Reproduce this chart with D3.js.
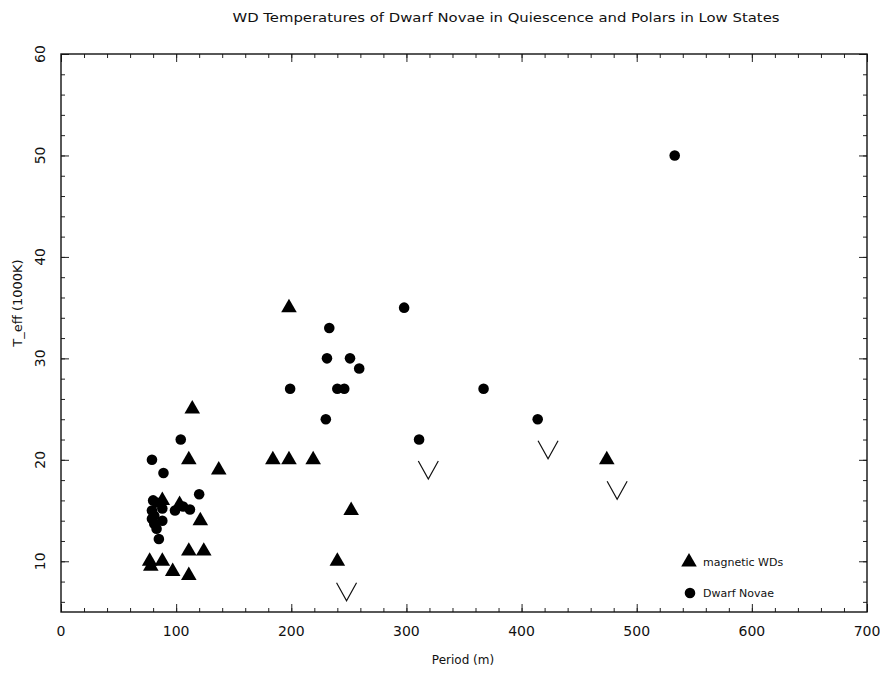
<!DOCTYPE html>
<html>
<head>
<meta charset="utf-8">
<script src="https://cdn.jsdelivr.net/npm/d3@7"></script>
<style>
  body { margin: 0; background: #fff; }
  text { font-family: "DejaVu Sans", sans-serif; fill: #111; }
</style>
</head>
<body>
<script>
// data: [period (min), T_eff (1000K)]
var magneticWDs = [
  [198, 35], [114, 25], [111, 20], [137, 19], [184, 20], [198, 20], [219, 20],
  [252, 15], [240, 10], [474, 20], [88, 16], [103, 15.6], [121, 14],
  [111, 11], [124, 11], [77, 10], [88, 10], [78, 9.5], [97, 9], [111, 8.6]
];
var dwarfNovae = [
  [533, 50], [298, 35], [233, 33], [231, 30], [251, 30], [259, 29],
  [199, 27], [240, 27], [246, 27], [367, 27], [230, 24], [414, 24],
  [311, 22], [104, 22], [79, 20], [89, 18.7], [120, 16.6],
  [80, 16], [83, 15.8], [79, 15], [81, 14.5], [79, 14.2], [81, 13.7],
  [83, 13.2], [85, 12.2], [88, 14], [88, 15.2], [99, 15], [106, 15.4], [112, 15.1]
];
// upper limits (drawn as open V)
var upperLimits = [[319, 19], [423, 21], [483, 17], [248, 7]];

var xTicks = [0, 100, 200, 300, 400, 500, 600, 700];
var yTicks = [10, 20, 30, 40, 50, 60];

//Define Margin
var margin = { left: 61, right: 13, top: 54, bottom: 62 },
    width = 880 - margin.left - margin.right,
    height = 674 - margin.top - margin.bottom;

var svg = d3.select("body")
    .append("svg")
    .attr("width", 880)
    .attr("height", 674);

var g = svg.append("g")
    .attr("transform", "translate(" + margin.left + "," + margin.top + ")");

var x = d3.scaleLinear().domain([0, 700]).range([0, width]);
var y = d3.scaleLinear().domain([5, 60]).range([height, 0]);

//=================================================
// axes: ticks inward on all four sides
//=================================================
function tickAxis(axis, scale, values, size) {
    return axis(scale).tickValues(values).tickSize(-size).tickFormat("");
}
var xMinor = d3.range(0, 701, 20), yMinor = d3.range(6, 61, 2);

[[d3.axisBottom, "translate(0," + height + ")"], [d3.axisTop, null]].forEach(function (a) {
    var gg = g.append("g").attr("transform", a[1]);
    gg.append("g").call(tickAxis(a[0], x, xMinor, 4));
    gg.append("g").call(tickAxis(a[0], x, xTicks, 8));
});
[[d3.axisLeft, null], [d3.axisRight, "translate(" + width + ",0)"]].forEach(function (a) {
    var gg = g.append("g").attr("transform", a[1]);
    gg.append("g").call(tickAxis(a[0], y, yMinor, 4));
    gg.append("g").call(tickAxis(a[0], y, yTicks, 8));
});
g.selectAll(".domain").remove();
g.selectAll(".tick line").attr("stroke", "#222").attr("stroke-width", 1);

g.append("rect")
    .attr("width", width)
    .attr("height", height)
    .attr("fill", "none")
    .attr("stroke", "#111")
    .attr("stroke-width", 1.4);

// tick labels
g.selectAll(".xlab")
    .data(xTicks)
    .enter().append("text")
    .attr("x", function (d) { return x(d); })
    .attr("y", height + 24)
    .attr("text-anchor", "middle")
    .attr("font-size", 14)
    .text(function (d) { return d; });

g.selectAll(".ylab")
    .data(yTicks)
    .enter().append("text")
    .attr("transform", function (d) { return "translate(-16," + y(d) + ") rotate(-90)"; })
    .attr("text-anchor", "middle")
    .attr("font-size", 14)
    .text(function (d) { return d; });

// axis titles
svg.append("text")
    .attr("x", 463)
    .attr("y", 664)
    .attr("text-anchor", "middle")
    .attr("font-size", 12)
    .text("Period (m)");

svg.append("text")
    .attr("transform", "translate(22,303) rotate(-90)")
    .attr("text-anchor", "middle")
    .attr("font-size", 13)
    .text("T_eff (1000K)");

svg.append("text")
    .attr("x", 506)
    .attr("y", 22)
    .attr("text-anchor", "middle")
    .attr("font-size", 13)
    .attr("textLength", 547)
    .attr("lengthAdjust", "spacingAndGlyphs")
    .text("WD Temperatures of Dwarf Novae in Quiescence and Polars in Low States");

//=================================================
// points
//=================================================
var tri = d3.symbol().type(d3.symbolTriangle).size(105);
var circ = d3.symbol().type(d3.symbolCircle).size(88);

g.selectAll(".dn")
    .data(dwarfNovae)
    .enter().append("path")
    .attr("d", circ)
    .attr("transform", function (d) { return "translate(" + x(d[0]) + "," + y(d[1]) + ")"; })
    .attr("fill", "#000");

g.selectAll(".mwd")
    .data(magneticWDs)
    .enter().append("path")
    .attr("d", tri)
    .attr("transform", function (d) { return "translate(" + x(d[0]) + "," + y(d[1]) + ")"; })
    .attr("fill", "#000");

g.selectAll(".ul")
    .data(upperLimits)
    .enter().append("path")
    .attr("d", "M-10,-9L0,9L10,-9")
    .attr("transform", function (d) { return "translate(" + x(d[0]) + "," + y(d[1]) + ")"; })
    .attr("fill", "none")
    .attr("stroke", "#111")
    .attr("stroke-width", 1.2);

//=================================================
// legend
//=================================================
var legend = svg.append("g").attr("transform", "translate(689,0)");
legend.append("path").attr("d", tri).attr("transform", "translate(0,562)").attr("fill", "#000");
legend.append("path").attr("d", circ).attr("transform", "translate(1,593)").attr("fill", "#000");
legend.append("text").attr("x", 14).attr("y", 566).attr("font-size", 11).text("magnetic WDs");
legend.append("text").attr("x", 14).attr("y", 597).attr("font-size", 11).text("Dwarf Novae");
</script>
</body>
</html>
